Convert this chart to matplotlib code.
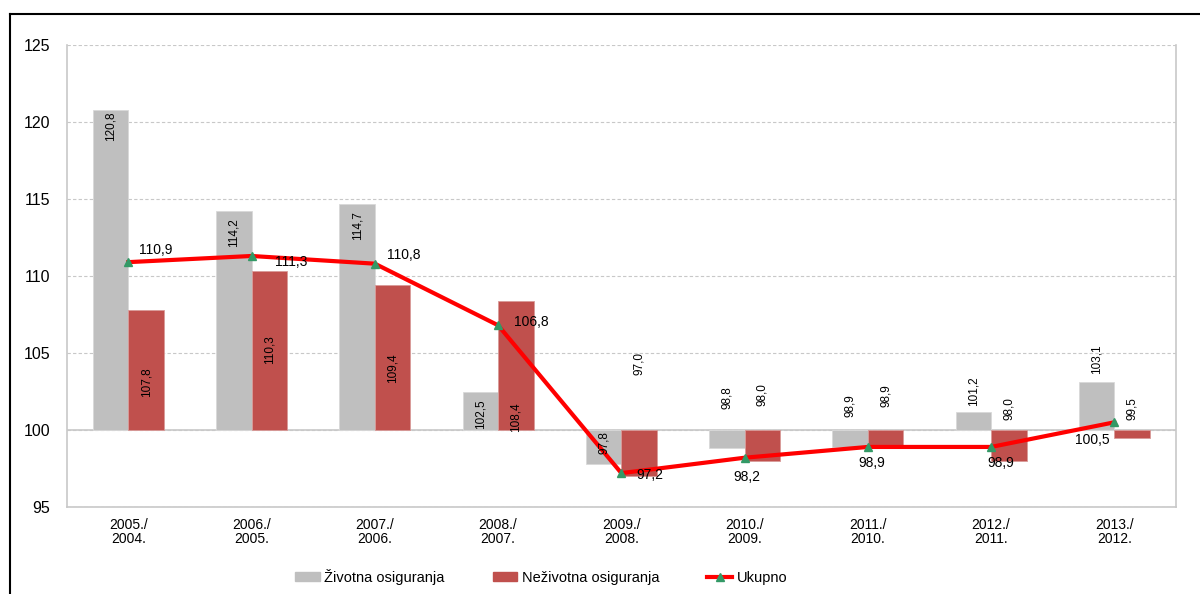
from matplotlib import pyplot as plt
from matplotlib.lines import Line2D
import numpy as np

plt.rcParams['font.family'] = ['Liberation Sans', 'DejaVu Sans']

# ======================================================================== #
# Data: indices (previous year = 100)
periods = ['2005./\n2004.', '2006./\n2005.', '2007./\n2006.', '2008./\n2007.',
           '2009./\n2008.', '2010./\n2009.', '2011./\n2010.', '2012./\n2011.',
           '2013./\n2012.']
life = [120.8, 114.2, 114.7, 102.5, 97.8, 98.8, 98.9, 101.2, 103.1]
nonlife = [107.8, 110.3, 109.4, 108.4, 97.0, 98.0, 98.9, 98.0, 99.5]
total = [110.9, 111.3, 110.8, 106.8, 97.2, 98.2, 98.9, 98.9, 100.5]

# Where the data labels sit (centre, in axis units) - as placed in the source
life_lbl_y = [119.7, 112.8, 113.3, 101.0, 99.2, 102.1, 101.6, 102.5, 104.6]
nonlife_lbl_y = [103.1, 105.2, 104.0, 100.8, 104.35, 102.3, 102.2, 101.4, 101.4]
# offsets of the total labels from their markers, in pixels (dx right, dy up)
total_lbl_off = [(27, 12), (40, -6), (29, 9), (33, 3), (29, -2),
                 (2, -19), (4, -16), (10, -16), (-22, -18)]

base = 100
gray = '#bfbfbf'
red = '#c0504d'
width = 0.288

# ======================================================================== #
fig = plt.figure(figsize=(12, 5.94), dpi=100)
W, H = 1200, 594
ax = fig.add_axes([66.7 / W, 1 - 507 / H, (1176 - 66.7) / W, (507 - 45) / H])

x = np.arange(len(periods))
ax.bar(x - width / 2, np.array(life) - base, width, bottom=base,
       color=gray, edgecolor='#d9d9d9', linewidth=0.6, zorder=2,
       label='Životna osiguranja')
ax.bar(x + width / 2, np.array(nonlife) - base, width, bottom=base,
       color=red, edgecolor='#d99a98', linewidth=0.6, zorder=2,
       label='Neživotna osiguranja')
ax.plot(x, total, color='#ff0000', linewidth=3, marker='^', markersize=6,
        markerfacecolor='#339966', markeredgecolor='#339966', zorder=4,
        label='Ukupno')

# data labels
for i in range(len(periods)):
    ax.text(x[i] - width / 2, life_lbl_y[i], f'{life[i]:.1f}'.replace('.', ','),
            rotation=90, ha='center', va='center', fontsize=8.5, zorder=5)
    ax.text(x[i] + width / 2, nonlife_lbl_y[i],
            f'{nonlife[i]:.1f}'.replace('.', ','),
            rotation=90, ha='center', va='center', fontsize=8.5, zorder=5)
    dx, dy = total_lbl_off[i]
    ax.annotate(f'{total[i]:.1f}'.replace('.', ','), (x[i], total[i]),
                xytext=(dx * 0.72, dy * 0.72), textcoords='offset points',
                ha='center', va='center', fontsize=10, zorder=6)

# ======================================================================== #
# Axes formatting
ax.set_xlim(-0.5, len(periods) - 0.5)
ax.set_ylim(95, 125)
ax.set_yticks(np.arange(95, 126, 5))
ax.set_xticks(x)
ax.set_xticklabels(periods, fontsize=10, linespacing=1.0)
ax.tick_params(axis='x', length=0, pad=8)
ax.tick_params(axis='y', length=0, pad=12, labelsize=11.5)
ax.yaxis.grid(True, color='#c8c8c8', linestyle=(0, (3, 2)), linewidth=0.8,
              zorder=0)
ax.set_axisbelow(True)
ax.axhline(base, color='#c8c8c8', linewidth=1.2, zorder=1)
for side in ['left', 'right', 'bottom']:
    ax.spines[side].set_color('#c8c8c8')
    ax.spines[side].set_linewidth(1.2)
ax.spines['top'].set_visible(False)

# legend
handles = [plt.Rectangle((0, 0), 1, 1, color=gray),
           plt.Rectangle((0, 0), 1, 1, color=red),
           Line2D([], [], color='#ff0000', linewidth=3, marker='^',
                  markersize=6, markerfacecolor='#339966',
                  markeredgecolor='#339966')]
fig.legend(handles, ['Životna osiguranja', 'Neživotna osiguranja', 'Ukupno'],
           loc='center', bbox_to_anchor=(541 / W, 1 - 577 / H), ncol=3,
           frameon=False, fontsize=10.5, handlelength=1.7, handleheight=0.6,
           handletextpad=0.3, columnspacing=3.3)

# outer frame (top and left edges are visible in the source)
fig.add_artist(Line2D([10 / W, 10 / W], [0, 1 - 14 / H], color='black',
                      linewidth=1.5, transform=fig.transFigure))
fig.add_artist(Line2D([10 / W, 1], [1 - 14 / H, 1 - 14 / H], color='black',
                      linewidth=1.5, transform=fig.transFigure))

plt.savefig('out.png', dpi=100)
